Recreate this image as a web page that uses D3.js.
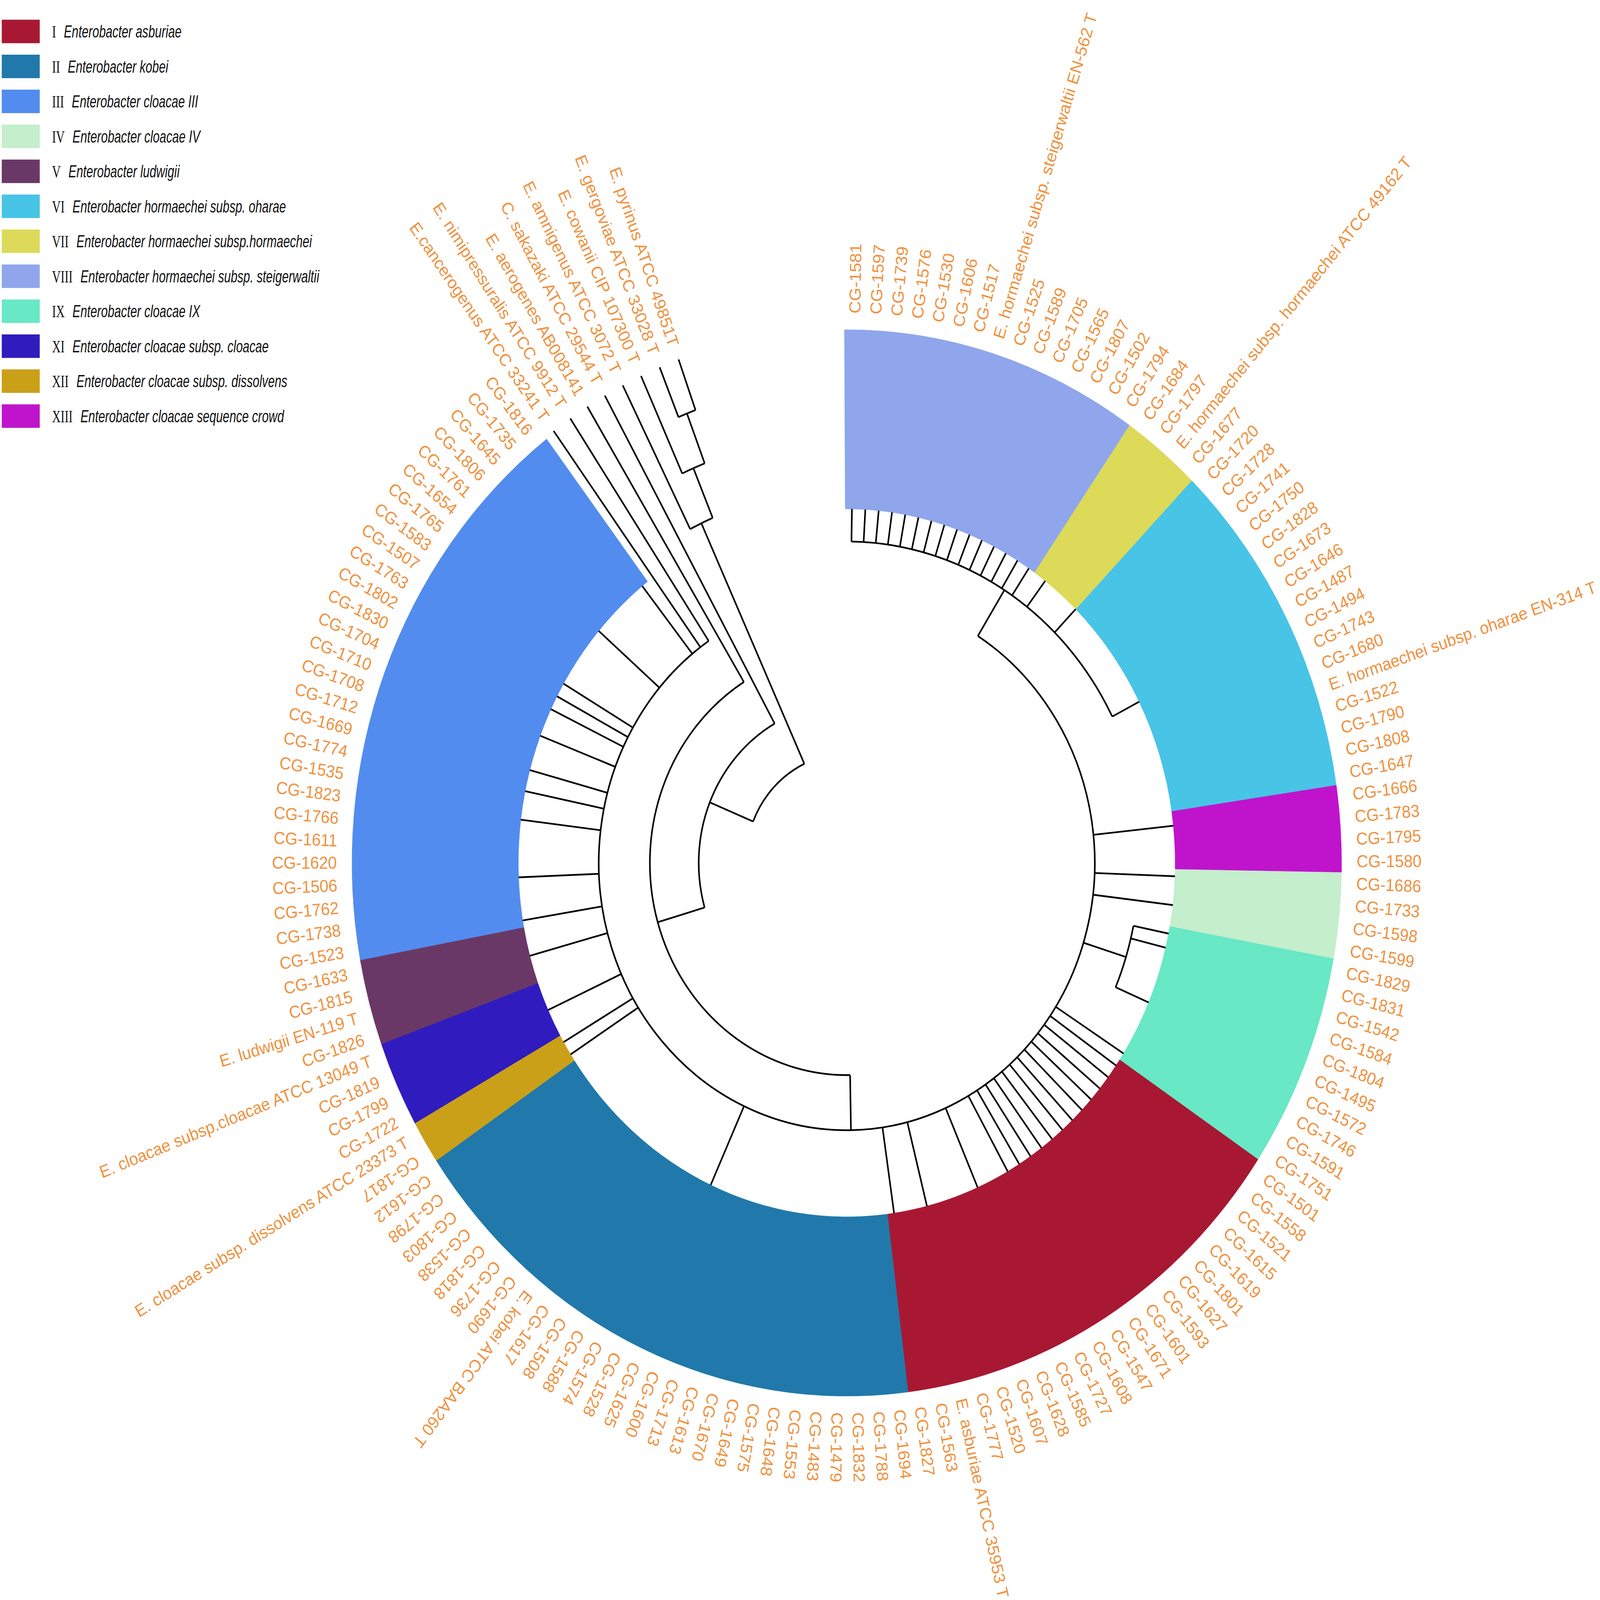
<!DOCTYPE html>
<html>
<head>
<meta charset="utf-8">
<script src="https://cdn.jsdelivr.net/npm/d3@7"></script>
<style>
  html, body { margin: 0; padding: 0; background: #fff; overflow: hidden; }
  .leaf-label { font-family: "Liberation Sans", Arial, sans-serif; font-size: 45.5px; fill: #ef913f; }
  .legend-text { font-family: "Liberation Sans", Arial, sans-serif; font-size: 46px; fill: #111; }
</style>
</head>
<body>
<div id="chart"></div>
<script>

// tip labels, in clockwise order starting at 12 o'clock
const leafNames = [
	"CG-1581", "CG-1597", "CG-1739", "CG-1576", "CG-1530", "CG-1606", "CG-1517",
	"E. hormaechei subsp. steigerwaltii EN-562 T",
	"CG-1525", "CG-1589", "CG-1705", "CG-1565", "CG-1807", "CG-1502", "CG-1794",
	"CG-1684", "CG-1797",
	"E. hormaechei subsp. hormaechei ATCC 49162 T",
	"CG-1677", "CG-1720", "CG-1728", "CG-1741", "CG-1750", "CG-1828", "CG-1673",
	"CG-1646", "CG-1487", "CG-1494", "CG-1743", "CG-1680",
	"E. hormaechei subsp. oharae EN-314 T",
	"CG-1522", "CG-1790", "CG-1808", "CG-1647", "CG-1666", "CG-1783", "CG-1795",
	"CG-1580", "CG-1686", "CG-1733", "CG-1598", "CG-1599", "CG-1829", "CG-1831",
	"CG-1542", "CG-1584", "CG-1804", "CG-1495", "CG-1572", "CG-1746", "CG-1591",
	"CG-1751", "CG-1501", "CG-1558", "CG-1521", "CG-1615", "CG-1619", "CG-1801",
	"CG-1627", "CG-1593", "CG-1601", "CG-1671", "CG-1547", "CG-1608", "CG-1727",
	"CG-1585", "CG-1628", "CG-1607", "CG-1520", "CG-1777",
	"E. asburiae ATCC 35953 T",
	"CG-1563", "CG-1827", "CG-1694", "CG-1788", "CG-1832", "CG-1479", "CG-1483",
	"CG-1553", "CG-1648", "CG-1575", "CG-1649", "CG-1670", "CG-1613", "CG-1713",
	"CG-1600", "CG-1625", "CG-1528", "CG-1574", "CG-1588", "CG-1508", "CG-1617",
	"E. kobei ATCC BAA260 T",
	"CG-1690", "CG-1736", "CG-1818", "CG-1538", "CG-1803", "CG-1798", "CG-1612",
	"CG-1817",
	"E. cloacae subsp. dissolvens ATCC 23373 T",
	"CG-1722", "CG-1799", "CG-1819",
	"E. cloacae subsp.cloacae ATCC 13049 T",
	"CG-1826",
	"E. ludwigii EN-119 T",
	"CG-1815", "CG-1633", "CG-1523", "CG-1738", "CG-1762", "CG-1506", "CG-1620",
	"CG-1611", "CG-1766", "CG-1823", "CG-1535", "CG-1774", "CG-1669", "CG-1712",
	"CG-1708", "CG-1710", "CG-1704", "CG-1830", "CG-1802", "CG-1763", "CG-1507",
	"CG-1583", "CG-1765", "CG-1654", "CG-1761", "CG-1806", "CG-1645", "CG-1735",
	"CG-1816",
	"E.cancerogenus ATCC 33241 T",
	"E. nimipressuralis ATCC 9912 T",
	"E. aerogenes AB008141",
	"C. sakazaki ATCC 29544 T",
	"E. amnigenus ATCC 3072 T",
	"E. cowanii CIP 107300 T",
	"E. gergoviae ATCC 33028 T",
	"E. pyrinus ATCC 49851T"
];

// tree topology, tips named by their index in leafNames, branch lengths
const treeNewick =
	"((((" +
	"(0:0.133,1:0.133,2:0.133,3:0.133,4:0.133,5:0.133,6:0.133,7:0.133,8:0.133,9:0.133," +
	"10:0.133,11:0.133,12:0.133,13:0.133,14:0.133,(15:0,16:0):0.133," +
	"(17:0,18:0,19:0,20:0):0.133," +
	"(21:0,22:0,23:0,24:0,25:0,26:0,27:0,28:0,29:0,30:0,31:0,32:0):0.133):0.221," +
	"(33:0,34:0,35:0,36:0,37:0,38:0):0.354," +
	"39:0.354," +
	"(40:0,41:0,42:0):0.354," +
	"(43:0.158,44:0.158,(45:0,46:0,47:0,48:0,49:0,50:0,51:0):0.158):0.196," +
	"52:0.354,53:0.354,54:0.354,55:0.354,56:0.354,57:0.354,58:0.354,59:0.354," +
	"60:0.354,61:0.354,62:0.354,63:0.354,64:0.354," +
	"(65:0,66:0,67:0,68:0):0.354," +
	"(69:0,70:0,71:0,72:0):0.354," +
	"73:0.354," +
	"(74:0,75:0,76:0,77:0,78:0,79:0,80:0,81:0,82:0,83:0,84:0,85:0,86:0,87:0,88:0," +
	"89:0,90:0,91:0,92:0,93:0,94:0,95:0,96:0,97:0,98:0,99:0,100:0):0.354," +
	"101:0.354,102:0.354," +
	"(103:0,104:0,105:0,106:0):0.354," +
	"(107:0,108:0,109:0,110:0):0.354," +
	"111:0.354," +
	"(112:0,113:0,114:0,115:0,116:0):0.354," +
	"(117:0,118:0,119:0):0.354," +
	"120:0.354," +
	"(121:0,122:0):0.354," +
	"(123:0,124:0,125:0):0.354," +
	"126:0.354,127:0.354,128:0.354," +
	"(129:0,130:0,131:0,132:0,133:0,134:0,135:0,136:0):0.354," +
	"137:0.354," +
	"138:1.094,139:1.094" +
	"):0.225,140:1.319):0.215,141:1.534):0.206," +
	"(142:0.658,(143:0.438,(144:0.22,145:0.22):0.218):0.22):1.082);";

// legend / clade groups
const groupNumerals = ["I", "II", "III", "IV", "V", "VI", "VII", "VIII", "IX", "XI", "XII", "XIII"];
const groupSpecies = [
	"Enterobacter asburiae",
	"Enterobacter kobei",
	"Enterobacter cloacae III",
	"Enterobacter cloacae IV",
	"Enterobacter ludwigii",
	"Enterobacter hormaechei subsp. oharae",
	"Enterobacter hormaechei subsp.hormaechei",
	"Enterobacter hormaechei subsp. steigerwaltii",
	"Enterobacter cloacae IX",
	"Enterobacter cloacae subsp. cloacae",
	"Enterobacter cloacae subsp. dissolvens",
	"Enterobacter cloacae sequence crowd"
];
const groupColors = ["#a81832", "#2079aa", "#528cee", "#c4eecc", "#6a3866", "#48c4e6",
	"#dcda58", "#8fa6ec", "#68e8c4", "#301cbe", "#caa018", "#c014cc"];
// first and last tip (index in leafNames) covered by each coloured band
const groupFirstLeaf = [53, 74, 111, 39, 107, 19, 15, 0, 43, 103, 101, 35];
const groupLastLeaf  = [73, 100, 137, 42, 110, 34, 18, 14, 52, 106, 102, 38];

function parseNewick (s) {
	const ancestors = [];
	let tree = {};
	const tokens = s.split(/\s*(;|\(|\)|,|:)\s*/);
	for (let i = 0; i < tokens.length; i++) {
		const token = tokens[i];
		switch (token) {
			case "(": {
				const subtree = {};
				tree.branchset = [subtree];
				ancestors.push(tree);
				tree = subtree;
				break;
			}
			case ",": {
				const subtree = {};
				ancestors[ancestors.length - 1].branchset.push(subtree);
				tree = subtree;
				break;
			}
			case ")":
				tree = ancestors.pop();
				break;
			case ":":
			case ";":
			case "":
				break;
			default: {
				const prev = tokens[i - 1];
				if (prev === ")" || prev === "(" || prev === ",") tree.name = token;
				else if (prev === ":") tree.length = parseFloat(token);
			}
		}
	}
	return tree;
}

const W = 4550, H = 4222;
const cx = 2408, cy = 2277;
const ROOT_R = 288, RING_R = 934, OUTER_R = 1407, LABEL_R = 1450;
const FLIP_ANGLE = 238;

const rad = (a) => a * Math.PI / 180;

const angle = d3.scaleLinear()
	.domain([0, leafNames.length - 1])
	.range([0.9, 340.2]);
const step = angle(1) - angle(0);

const radius = d3.scaleLinear()
	.domain([0, 1])
	.range([ROOT_R, RING_R]);

// the figure is laid out on a fixed 4550x4222 sheet, stretched onto the whole window
const svg = d3.select("#chart").append("svg")
	.attr("viewBox", `0 0 ${W} ${H}`)
	.attr("preserveAspectRatio", "none")
	.style("display", "block")
	.style("width", "100vw")
	.style("height", "100vh");

svg.append("rect").attr("width", W).attr("height", H).attr("fill", "#fff");

const g = svg.append("g").attr("transform", `translate(${cx},${cy})`);

// coloured clade bands
const band = d3.arc().innerRadius(RING_R).outerRadius(OUTER_R);
g.append("g").selectAll("path")
	.data(d3.range(groupNumerals.length))
	.join("path")
	.attr("d", (i) => band({
		startAngle: rad(angle(groupFirstLeaf[i]) - step / 2),
		endAngle: rad(angle(groupLastLeaf[i]) + step / 2)
	}))
	.attr("fill", (i) => groupColors[i])
	.attr("stroke", (i) => groupColors[i])
	.attr("stroke-width", 1);

// tree
const root = d3.hierarchy(parseNewick(treeNewick), (d) => d.branchset);
root.eachBefore((d) => {
	d.dist = d.parent ? d.parent.dist + (d.data.length || 0) : 0;
});
root.eachAfter((d) => {
	if (d.children) d.theta = (d.children[0].theta + d.children[d.children.length - 1].theta) / 2;
	else d.theta = angle(+d.data.name);
});

const gTree = g.append("g")
	.attr("fill", "none")
	.attr("stroke", "#000")
	.attr("stroke-width", 4.5);

const radialLine = d3.lineRadial();

gTree.selectAll("path.stem")
	.data(root.descendants().filter((d) => d.parent && d.data.length > 0))
	.join("path")
	.attr("class", "stem")
	.attr("d", (d) => radialLine([
		[rad(d.theta), radius(d.parent.dist)],
		[rad(d.theta), radius(d.dist)]
	]));

gTree.selectAll("path.fork")
	.data(root.descendants().filter((d) => d.children && d.children.some((c) => c.data.length > 0)))
	.join("path")
	.attr("class", "fork")
	.attr("d", (d) => {
		const p = d3.path();
		const a0 = rad(d.children[0].theta) - Math.PI / 2;
		const a1 = rad(d.children[d.children.length - 1].theta) - Math.PI / 2;
		p.arc(0, 0, radius(d.dist), a0, a1);
		return p.toString();
	});

// tip labels
g.append("g").selectAll("text")
	.data(root.leaves())
	.join("text")
	.attr("class", "leaf-label")
	.attr("transform", (d) => `rotate(${d.theta - 90}) translate(${LABEL_R},0)` + (d.theta > FLIP_ANGLE ? " rotate(180)" : ""))
	.attr("text-anchor", (d) => d.theta > FLIP_ANGLE ? "end" : "start")
	.attr("dy", "0.35em")
	.text((d) => leafNames[+d.data.name]);

// legend
const legendY = d3.scaleLinear()
	.domain([0, groupNumerals.length - 1])
	.range([83, 1098]);

const rows = svg.append("g").selectAll("g")
	.data(d3.range(groupNumerals.length))
	.join("g")
	.attr("transform", (i) => `translate(0,${legendY(i)})`);

rows.append("rect")
	.attr("x", 5)
	.attr("y", -31)
	.attr("width", 108)
	.attr("height", 62)
	.attr("fill", (i) => groupColors[i]);

const legendText = rows.append("text")
	.attr("class", "legend-text")
	.attr("transform", "translate(148,0) scale(0.74,1)")
	.attr("dy", "0.35em");

legendText.append("tspan")
	.attr("font-family", "Liberation Serif, serif")
	.text((i) => groupNumerals[i]);

legendText.append("tspan")
	.attr("dx", 30)
	.attr("font-style", "italic")
	.text((i) => groupSpecies[i]);

</script>
</body>
</html>
